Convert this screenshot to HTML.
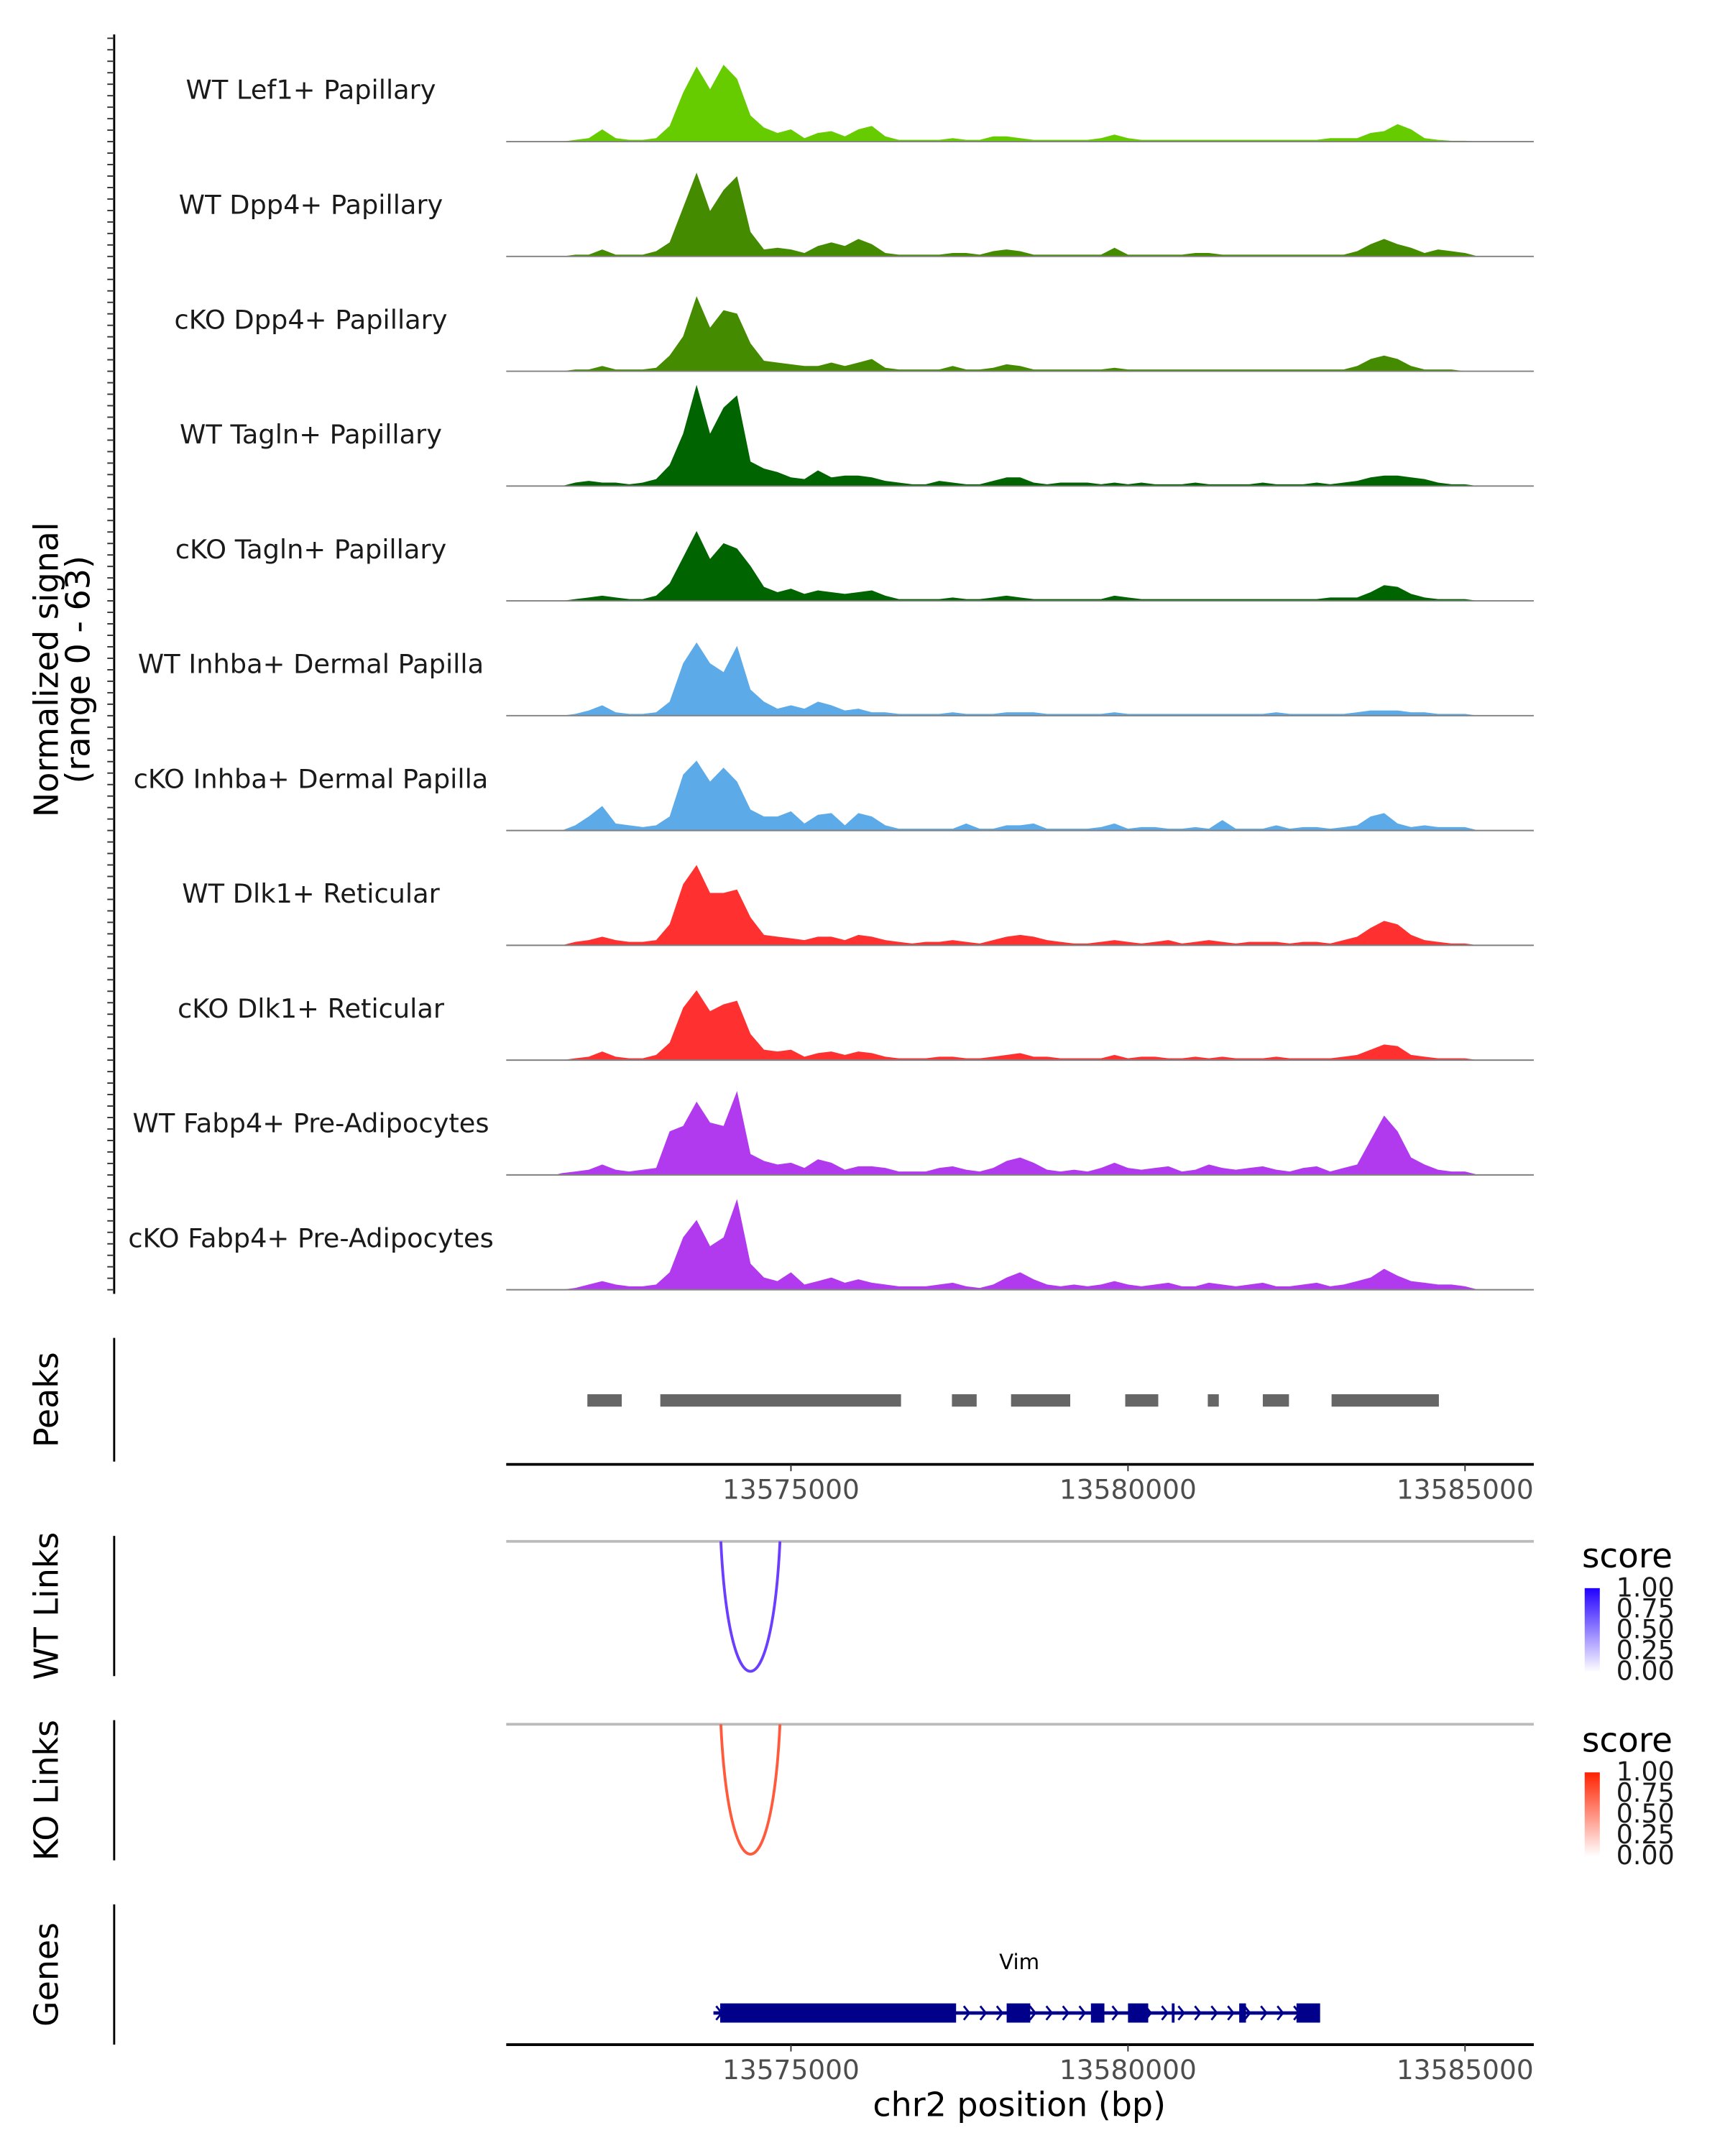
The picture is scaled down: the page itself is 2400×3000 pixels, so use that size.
<!DOCTYPE html>
<html><head><meta charset="utf-8">
<style>
html,body{margin:0;padding:0;background:#fff;}
svg{display:block;font-family:"DejaVu Sans","Liberation Sans",sans-serif;}
</style></head>
<body>
<svg id="chart" xmlns="http://www.w3.org/2000/svg" width="2400" height="3000" viewBox="0 0 1254 1568" preserveAspectRatio="none">
<g id="tracks"></g>
<g id="peaks"></g>
<g id="links"></g>
<g id="genes"></g>
<g id="axes"></g>
</svg>
<script>
const trackNames = ["WT Lef1+ Papillary","WT Dpp4+ Papillary","cKO Dpp4+ Papillary","WT Tagln+ Papillary","cKO Tagln+ Papillary","WT Inhba+ Dermal Papilla","cKO Inhba+ Dermal Papilla","WT Dlk1+ Reticular","cKO Dlk1+ Reticular","WT Fabp4+ Pre-Adipocytes","cKO Fabp4+ Pre-Adipocytes"];
const trackColors = ["#66cc00","#458b00","#458b00","#006400","#006400","#5caae8","#5caae8","#ff3030","#ff3030","#b23aee","#b23aee"];
const binStart = 13571500;
const binWidth = 200;
const sigLef1WT = [0,1,2,7,2,1,1,2,9,28,43,30,44,36,15,8,5,7,2,5,6,3,7,9,3,1,1,1,1,2,1,1,3,3,2,1,1,1,1,1,2,4,2,1,1,1,1,1,1,1,1,1,1,1,1,1,1,2,2,2,5,6,10,7,2,1,0.5,0.5,0];
const sigDpp4WT = [0,1,1,4,1,1,1,3,8,28,48,26,38,46,14,4,5,4,2,6,8,6,10,7,2,1,1,1,1,2,2,1,3,4,3,1,1,1,1,1,1,5,1,1,1,1,1,2,2,1,1,1,1,1,1,1,1,1,1,3,7,10,7,5,2,4,3,2,0];
const sigDpp4KO = [0,1,1,3,1,1,1,2,9,20,43,25,35,33,16,6,5,4,3,3,5,3,5,7,2,1,1,1,1,3,1,1,2,4,3,1,1,1,1,1,1,2,1,1,1,1,1,1,1,1,1,1,1,1,1,1,1,1,1,3,7,9,7,3,1,1,1,0,0];
const sigTaglnWT = [0,2,3,2,2,1,2,4,12,30,58,30,45,52,14,10,8,5,4,9,5,6,6,5,3,2,1,1,3,2,1,1,3,5,5,2,1,2,2,2,1,2,1,2,1,1,1,2,1,1,1,1,2,1,1,1,2,1,2,3,5,6,6,5,4,2,1,1,0];
const sigTaglnKO = [0,1,2,3,2,1,1,3,10,25,40,24,33,30,20,8,5,7,4,6,5,4,5,6,3,1,1,1,1,2,1,1,2,3,2,1,1,1,1,1,1,3,2,1,1,1,1,1,1,1,1,1,1,1,1,1,1,2,2,2,5,9,8,4,2,1,1,1,0];
const sigInhbaWT = [0,1,3,6,2,1,1,2,8,30,42,30,25,40,15,8,4,6,4,8,6,3,4,2,2,1,1,1,1,2,1,1,1,2,2,2,1,1,1,1,1,2,1,1,1,1,1,1,1,1,1,1,1,2,1,1,1,1,1,2,3,3,3,2,2,1,1,1,0];
const sigInhbaKO = [0,3,8,14,4,3,2,3,8,32,40,28,36,28,12,8,8,11,4,9,10,3,10,8,3,1,1,1,1,1,4,1,1,3,3,4,1,1,1,1,2,4,1,2,2,1,1,2,1,6,1,1,1,3,1,2,2,1,2,3,8,10,4,2,3,2,2,2,0];
const sigDlk1WT = [0,2,3,5,3,2,2,3,12,35,46,30,30,32,16,6,5,4,3,5,5,3,6,5,3,2,1,2,2,3,2,1,3,5,6,5,3,2,1,1,2,3,2,1,2,3,1,2,3,2,1,2,2,2,1,2,2,1,3,5,10,14,12,6,3,2,1,1,0];
const sigDlk1KO = [0,1,2,5,2,1,1,3,10,30,40,28,32,34,15,6,5,6,2,4,5,3,5,4,2,1,1,1,2,2,1,1,2,3,4,2,2,1,1,1,1,3,1,2,2,1,1,2,1,2,1,1,1,2,1,1,1,1,2,3,6,9,8,3,2,1,1,1,0];
const sigFabp4WT = [1,2,3,6,3,2,3,4,25,28,42,30,28,48,12,8,6,7,4,9,7,3,5,5,4,2,2,2,4,5,3,2,4,8,10,7,3,2,3,2,4,7,4,3,4,5,2,3,6,4,3,4,5,3,2,4,5,2,4,6,20,34,25,10,6,3,2,2,0];
const sigFabp4KO = [0,1,3,5,3,2,2,3,10,30,40,25,30,52,15,7,5,10,3,5,7,4,6,4,3,2,2,2,3,4,2,1,3,7,10,6,3,2,3,2,3,5,3,2,3,4,2,2,4,3,2,3,4,2,2,3,4,2,3,5,7,12,8,5,4,3,3,2,0];
const peakStarts = [13571980,13573062,13577388,13578265,13579959,13581184,13582000,13583020];
const peakEnds   = [13572490,13576633,13577755,13579143,13580449,13581347,13582388,13584612];
const linkStartWT = [13573960]; const linkEndWT = [13574837]; const linkScoreWT = [0.7];
const linkStartKO = [13573960]; const linkEndKO = [13574837]; const linkScoreKO = [0.7];
const xTicks = [13575000,13580000,13585000];
const geneStart = 13573850, geneEnd = 13582800;
const exonStarts = [13573950,13578200,13579450,13580000,13580650,13581650,13582500];
const exonEnds   = [13577450,13578550,13579650,13580300,13580680,13581750,13582850];
const yMax = 63;

const NS="http://www.w3.org/2000/svg";
function mk(tag, attrs, parent){const e=document.createElementNS(NS,tag);for(const k in attrs)e.setAttribute(k,attrs[k]);parent.appendChild(e);return e;}
const X0=368, X1=1115, bp0=13570776, bp1=13586020;
function xs(bp){return X0+(bp-bp0)/(bp1-bp0)*(X1-X0);}
const trackH=83.5, base0=103;
function ys(v,base){return base - v/yMax*80;}

const signals=[sigLef1WT,sigDpp4WT,sigDpp4KO,sigTaglnWT,sigTaglnKO,sigInhbaWT,sigInhbaKO,sigDlk1WT,sigDlk1KO,sigFabp4WT,sigFabp4KO];
const gT=document.getElementById('tracks');
signals.forEach((s,t)=>{
  const base=base0+t*trackH;
  let d=`M${xs(binStart)},${base}`;
  s.forEach((v,i)=>{d+=` L${xs(binStart+binWidth*(i+0.5)).toFixed(1)},${ys(v,base).toFixed(1)}`;});
  d+=` L${xs(binStart+binWidth*s.length)},${base} Z`;
  const p=mk('path',{d:d,fill:trackColors[t]},gT);
  
  
  const l=mk('line',{x1:X0,x2:X1,y1:base,y2:base,stroke:'#808080','stroke-width':1},gT);
  
  
  const tx=mk('text',{x:226,y:base-31,'text-anchor':'middle','font-size':19.2,fill:'#1a1a1a'},gT);
  tx.textContent=trackNames[t];
  
  
});

const gA=document.getElementById('axes');
function vline(x,y1,y2,name){const l=mk('line',{x1:x,x2:x,y1:y1,y2:y2,stroke:'#000','stroke-width':1.5},gA);}
vline(83,25,941,'y-axis-line');
for(let t=0;t<11;t++){for(let k=0;k<10;k++){const y=base0+t*trackH-k*8.35;const l=mk('line',{x1:78,x2:83,y1:y,y2:y,stroke:'#333','stroke-width':1},gA);}}
function rotText(x,y,lines,name){const t=mk('text',{transform:`translate(${x},${y}) rotate(-90)`,'text-anchor':'middle','font-size':24,fill:'#000'},gA);lines.forEach((s,i)=>{const ts=mk('tspan',{x:0,dy:i?23:0},t);ts.textContent=s;});}
rotText(42,487,["Normalized signal","(range 0 - 63)"],'y-axis-title');
vline(83,973,1063,'peaks-axis-line'); rotText(42,1018,["Peaks"],'peaks-title');
vline(83,1117,1219,'wt-links-axis-line'); rotText(42,1168,["WT Links"],'wt-links-title');
vline(83,1251,1353,'ko-links-axis-line'); rotText(42,1302,["KO Links"],'ko-links-title');
vline(83,1385,1487,'genes-axis-line'); rotText(42,1436,["Genes"],'genes-title');

function xAxis(y,name){
  const l=mk('line',{x1:X0,x2:X1,y1:y,y2:y,stroke:'#000','stroke-width':2},gA);
  xTicks.forEach(v=>{const tk=mk('line',{x1:xs(v),x2:xs(v),y1:y,y2:y+5,stroke:'#333','stroke-width':1},gA);
    const t=mk('text',{x:xs(v),y:y+25,'text-anchor':'middle','font-size':19.6,fill:'#4d4d4d'},gA);t.textContent=v;});
}
xAxis(1065,'peaks-x-axis'); xAxis(1487,'genes-x-axis');
const xt=mk('text',{x:741,y:1539,'text-anchor':'middle','font-size':24,fill:'#000'},gA);xt.textContent='chr2 position (bp)';



const gP=document.getElementById('peaks');
peakStarts.forEach((s,i)=>{const r=mk('rect',{x:xs(s),y:1014,width:xs(peakEnds[i])-xs(s),height:9,fill:'#666'},gP);
  
  });

const gL=document.getElementById('links');
function links(starts,ends,top,col,name){
  const l=mk('line',{x1:X0,x2:X1,y1:top,y2:top,stroke:'#bbb','stroke-width':2},gL);
  starts.forEach((s,i)=>{const a=xs(s),b=xs(ends[i]);
    const p=mk('path',{d:`M${a},${top} C${a+6},${top+126} ${b-6},${top+126} ${b},${top}`,fill:'none',stroke:col,'stroke-width':2},gL);
    
    });
}
links(linkStartWT,linkEndWT,1121,'#6a3dff','wt-link');
links(linkStartKO,linkEndKO,1254,'#ff5a3c','ko-link');

function legend(y,c,name){
  const defs=mk('defs',{},gL);const g=mk('linearGradient',{id:name+'g',x1:0,y1:0,x2:0,y2:1},defs);
  mk('stop',{offset:0,'stop-color':c},g);mk('stop',{offset:1,'stop-color':'#fff'},g);
  const t=mk('text',{x:1150,y:y,'font-size':24.5,fill:'#000'},gL);t.textContent='score';
  const r=mk('rect',{x:1152,y:y+15,width:11,height:61,fill:`url(#${name}g)`},gL);
  ['1.00','0.75','0.50','0.25','0.00'].forEach((s,i)=>{const tt=mk('text',{x:1175,y:y+21+i*15.2,'font-size':19,fill:'#1a1a1a'},gL);tt.textContent=s;});
}
legend(1140,'#2200ff','wt-legend'); legend(1274,'#ff2200','ko-legend');

const gG=document.getElementById('genes');
const gn=mk('text',{x:741,y:1432,'text-anchor':'middle','font-size':15.3,fill:'#000'},gG);gn.textContent='Vim';


const gl=mk('line',{x1:xs(geneStart),x2:xs(geneEnd),y1:1464,y2:1464,stroke:'#00008b','stroke-width':2.5},gG);


for(let x=xs(geneStart)+2;x<xs(geneEnd);x+=12){const a=mk('path',{d:`M${x},1459 L${x+4},1464 L${x},1469`,fill:'none',stroke:'#00008b','stroke-width':1.5},gG);
  
  }
exonStarts.forEach((s,i)=>{const r=mk('rect',{x:xs(s),y:1457,width:Math.max(2,xs(exonEnds[i])-xs(s)),height:14,fill:'#00008b'},gG);
  
  });
</script>
</body></html>
